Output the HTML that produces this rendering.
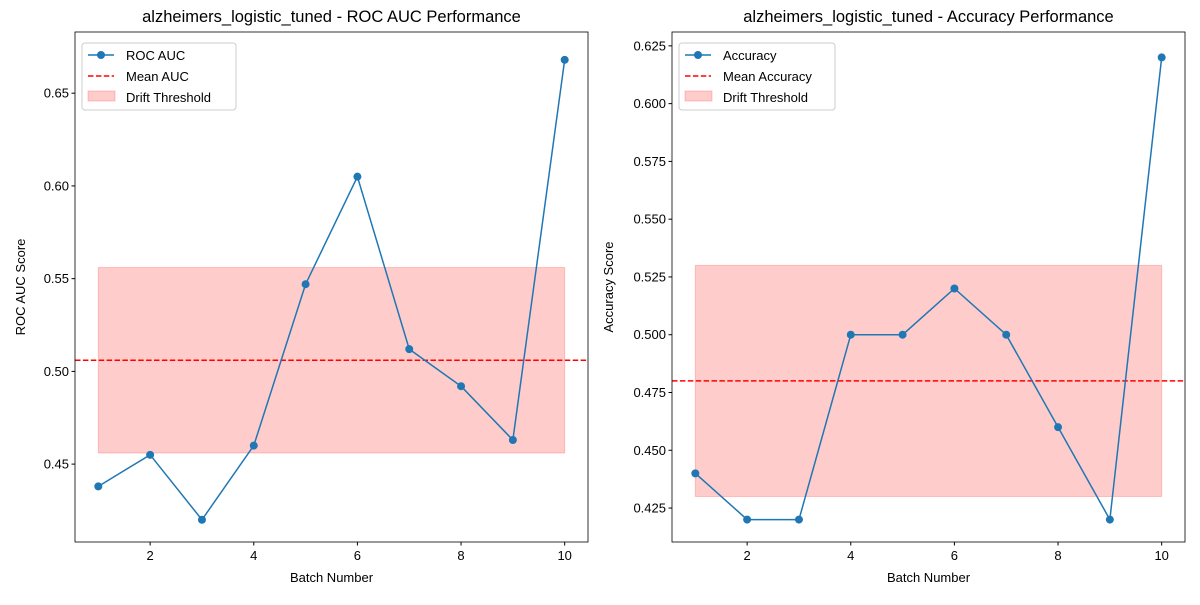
<!DOCTYPE html>
<html><head><meta charset="utf-8"><style>
body{margin:0;background:#fff;}
svg{font-family:"Liberation Sans","DejaVu Sans",sans-serif;}
</style></head><body>
<svg id="chart" width="1200" height="600"></svg>
<script>
const batches=[1,2,3,4,5,6,7,8,9,10];
const aucValues=[0.438,0.455,0.420,0.460,0.547,0.605,0.512,0.492,0.463,0.668];
const accValues=[0.44,0.42,0.42,0.50,0.50,0.52,0.50,0.46,0.42,0.62];
const xTicks=[2,4,6,8,10];
const aucTicks=[0.45,0.50,0.55,0.60,0.65];
const accTicks=[0.425,0.450,0.475,0.500,0.525,0.550,0.575,0.600,0.625];
const aucMean=0.506, aucBand=0.05;
const accMean=0.48, accBand=0.05;

const svg=document.getElementById('chart');
const NS='http://www.w3.org/2000/svg';
function mk(t,a,p){const e=document.createElementNS(NS,t);for(const k in a)e.setAttribute(k,a[k]);(p||svg).appendChild(e);return e;}

function panel(o){
  const g=mk('g',{});
  
  
  const X=v=>o.x0+(v-o.xmin)/(o.xmax-o.xmin)*(o.x1-o.x0);
  const Y=v=>o.y1-(v-o.ymin)/(o.ymax-o.ymin)*(o.y1-o.y0);
  const band=mk('rect',{x:X(batches[0]),y:Y(o.mean+o.band),width:X(batches[batches.length-1])-X(batches[0]),height:Y(o.mean-o.band)-Y(o.mean+o.band),fill:'rgba(255,0,0,0.2)',stroke:'rgba(255,0,0,0.2)'},g);
  
  
  const ml=mk('line',{x1:o.x0,x2:o.x1,y1:Y(o.mean),y2:Y(o.mean),stroke:'#ff0000','stroke-width':1.5,'stroke-dasharray':'5.5,2.4'},g);
  
  
  const pts=batches.map((b,i)=>X(b)+','+Y(o.vals[i])).join(' ');
  const pl=mk('polyline',{points:pts,fill:'none',stroke:'#1f77b4','stroke-width':1.5},g);
  
  
  batches.forEach((b,i)=>{const c=mk('circle',{cx:X(b),cy:Y(o.vals[i]),r:4,fill:'#1f77b4'},g);
    
    });
  mk('rect',{x:o.x0,y:o.y0,width:o.x1-o.x0,height:o.y1-o.y0,fill:'none',stroke:'#000','stroke-width':0.8},g);
  xTicks.forEach(t=>{mk('line',{x1:X(t),x2:X(t),y1:o.y1,y2:o.y1+3.5,stroke:'#000'},g);
    const tx=mk('text',{x:X(t),y:o.y1+18,'text-anchor':'middle','font-size':13},g);tx.textContent=t;
    
    });
  o.ticks.forEach(t=>{mk('line',{x1:o.x0-3.5,x2:o.x0,y1:Y(t),y2:Y(t),stroke:'#000'},g);
    const tx=mk('text',{x:o.x0-6,y:Y(t)+4.5,'text-anchor':'end','font-size':13},g);tx.textContent=t.toFixed(o.dec);
    
    });
  const ti=mk('text',{x:(o.x0+o.x1)/2,y:o.y0-10,'text-anchor':'middle','font-size':16.5},g);ti.textContent=o.title;
  
  
  const xl=mk('text',{x:(o.x0+o.x1)/2,y:582,'text-anchor':'middle','font-size':13},g);xl.textContent='Batch Number';
  
  
  const yl=mk('text',{x:0,y:0,'text-anchor':'middle','font-size':13,transform:`translate(${o.x0-o.yoff},${(o.y0+o.y1)/2}) rotate(-90)`},g);yl.textContent=o.ylabel;
  
  
  const lg=mk('g',{},g);
  
  
  const lx=o.x0+7,ly=o.y0+11;
  mk('rect',{x:lx,y:ly,width:o.lw,height:67,rx:3,fill:'#fff','fill-opacity':0.8,stroke:'#ccc'},lg);
  mk('line',{x1:lx+6,x2:lx+32,y1:ly+12,y2:ly+12,stroke:'#1f77b4','stroke-width':1.5},lg);
  mk('circle',{cx:lx+19,cy:ly+12,r:4,fill:'#1f77b4'},lg);
  mk('line',{x1:lx+6,x2:lx+32,y1:ly+33,y2:ly+33,stroke:'#f00','stroke-width':1.5,'stroke-dasharray':'5.5,2.4'},lg);
  mk('rect',{x:lx+6,y:ly+48,width:27,height:10,fill:'rgba(255,0,0,0.2)',stroke:'rgba(255,0,0,0.2)'},lg);
  [o.l1,o.l2,'Drift Threshold'].forEach((s,i)=>{const t=mk('text',{x:lx+44,y:ly+17+i*21,'font-size':13},lg);t.textContent=s;
    
    });
}
panel({name:'roc-auc-panel',x0:75,x1:588,y0:32,y1:542,xmin:0.55,xmax:10.45,ymin:0.408,ymax:0.683,vals:aucValues,mean:aucMean,band:aucBand,ticks:aucTicks,dec:2,title:'alzheimers_logistic_tuned - ROC AUC Performance',ylabel:'ROC AUC Score',l1:'ROC AUC',l2:'Mean AUC',lw:154,yoff:50});
panel({name:'accuracy-panel',x0:672,x1:1185,y0:32,y1:542,xmin:0.55,xmax:10.45,ymin:0.4103,ymax:0.631,vals:accValues,mean:accMean,band:accBand,ticks:accTicks,dec:3,title:'alzheimers_logistic_tuned - Accuracy Performance',ylabel:'Accuracy Score',l1:'Accuracy',l2:'Mean Accuracy',lw:156,yoff:59});
</script>
</body></html>
